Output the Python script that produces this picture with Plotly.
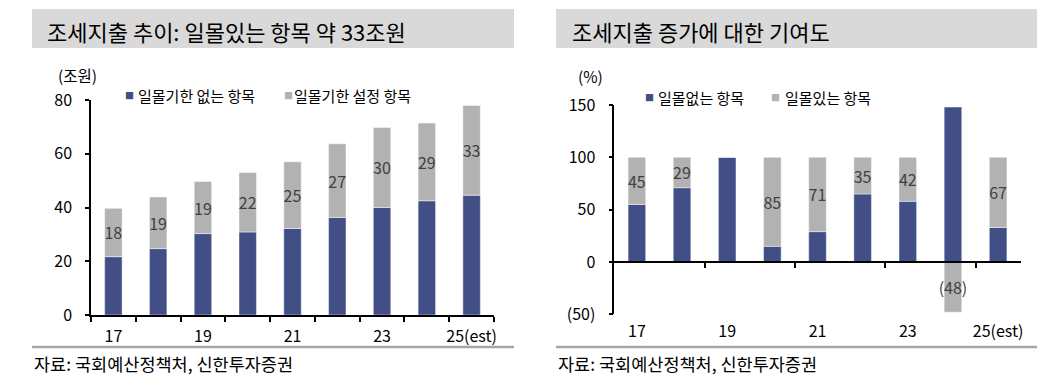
import plotly.graph_objects as go

# ---------------- data ----------------
years = ["17", "18", "19", "20", "21", "22", "23", "24", "25(est)"]
year_ticks = ["17", "19", "21", "23", "25(est)"]

# left chart: 조세지출 추이 (조원)
left_no_sunset = [21.7, 24.7, 30.3, 30.9, 32.2, 36.3, 40.0, 42.5, 44.6]   # 일몰기한 없는 항목
left_sunset = [18.0, 19.2, 19.4, 22.1, 24.8, 27.4, 29.8, 28.9, 33.4]      # 일몰기한 설정 항목
left_yticks = [0, 20, 40, 60, 80]

# right chart: 조세지출 증가에 대한 기여도 (%)
right_no_sunset = [55, 71, 100, 15, 29, 65, 58, 148, 33]   # 일몰없는 항목
right_sunset = [45, 29, 0, 85, 71, 35, 42, -48, 67]        # 일몰있는 항목
right_yticks = [-50, 0, 50, 100, 150]
right_yticktext = ["(50)", "0", "50", "100", "150"]

# ---------------- style ----------------
BLUE = "#424F87"
GRAY = "#B2B2B2"
LABEL = "#404040"
FONT = "Noto Sans CJK KR"
W, H = 1050, 385


def px(x):
    return x / W


def py(y):
    return 1 - y / H


def fmt(v):
    if v == 0:
        return ""
    r = round(v)
    return f"({abs(r)})" if r < 0 else f"{r}"


idx = list(range(len(years)))
tick_idx = [years.index(t) for t in year_ticks]
edge_line = dict(width=1, color="rgba(255,255,255,0.45)")

fig = go.Figure()

# left chart bars
fig.add_trace(go.Bar(x=idx, y=left_no_sunset, name="일몰기한 없는 항목", marker=dict(color=BLUE, line=edge_line),
                     width=0.39, xaxis="x", yaxis="y", hoverinfo="y"))
fig.add_trace(go.Bar(x=idx, y=left_sunset, name="일몰기한 설정 항목", marker=dict(color=GRAY, line=edge_line),
                     width=0.39, xaxis="x", yaxis="y", text=[fmt(v) for v in left_sunset],
                     textposition="inside", insidetextanchor="middle", textangle=0,
                     textfont=dict(size=16, color=LABEL, family=FONT), hoverinfo="y"))

# right chart bars
fig.add_trace(go.Bar(x=idx, y=right_no_sunset, name="일몰없는 항목", marker=dict(color=BLUE, line=edge_line),
                     width=0.39, xaxis="x2", yaxis="y2", hoverinfo="y"))
fig.add_trace(go.Bar(x=idx, y=right_sunset, name="일몰있는 항목", marker=dict(color=GRAY, line=edge_line),
                     width=0.39, xaxis="x2", yaxis="y2", text=[fmt(v) for v in right_sunset],
                     textposition="inside", insidetextanchor="middle", textangle=0,
                     textfont=dict(size=16, color=LABEL, family=FONT), hoverinfo="y"))
# helper trace so the zero-line axis is drawn
fig.add_trace(go.Scatter(x=[None], y=[None], xaxis="x3", yaxis="y2", showlegend=False, hoverinfo="skip"))

L_dom_y = [py(315), py(100)]
R_dom_y = [py(314.3), py(105)]
zero_pos = R_dom_y[0] + (0 - right_yticks[0]) / (right_yticks[-1] - right_yticks[0]) * (R_dom_y[1] - R_dom_y[0])

axis_common = dict(showgrid=False, zeroline=False, automargin=False,
                   tickfont=dict(size=16, color="black", family=FONT))

fig.update_layout(
    template="none",
    width=W, height=H, autosize=False,
    margin=dict(l=0, r=0, t=0, b=0, pad=0),
    paper_bgcolor="white", plot_bgcolor="white",
    font=dict(family=FONT, color="black"),
    barmode="relative",
    showlegend=False,
    uniformtext=dict(minsize=16, mode="show"),
    xaxis=dict(domain=[px(91), px(494)], anchor="y", range=[-0.5, len(years) - 0.5],
               tickmode="array", tickvals=tick_idx, ticktext=year_ticks, ticks="",
               showline=True, linecolor="black", linewidth=1.5, ticklabelstandoff=6,
               minor=dict(tickmode="array", tickvals=[i - 0.5 for i in range(len(years) + 1)],
                          ticks="outside", ticklen=5, tickwidth=1.5, tickcolor="black"),
               **axis_common),
    yaxis=dict(domain=L_dom_y, anchor="x", range=[0, 80], tickmode="array", tickvals=left_yticks,
               ticks="outside", ticklen=4, tickwidth=1.5, tickcolor="black",
               showline=True, linecolor="black", linewidth=1.5, ticklabelstandoff=10, **axis_common),
    xaxis2=dict(domain=[px(614.3), px(1020.7)], anchor="y2", range=[-0.5, len(years) - 0.5],
                tickmode="array", tickvals=tick_idx, ticktext=year_ticks, ticks="",
                showline=False, ticklabelstandoff=6, **axis_common),
    xaxis3=dict(overlaying="x2", anchor="free", position=zero_pos, side="bottom",
                range=[-0.5, len(years) - 0.5], tickmode="array", tickvals=[1.5, 3.5, 5.5, 7.5],
                ticks="outside", ticklen=5, tickwidth=1.5, tickcolor="black", showticklabels=False,
                showline=True, linecolor="black", linewidth=1.5, showgrid=False, zeroline=False,
                automargin=False),
    yaxis2=dict(domain=R_dom_y, anchor="x2", range=[-50, 150], tickmode="array",
                tickvals=right_yticks, ticktext=right_yticktext,
                ticks="outside", ticklen=4, tickwidth=1.5, tickcolor="black",
                showline=True, linecolor="black", linewidth=1.5, ticklabelstandoff=10, **axis_common),
)

shapes = []
annotations = []

# title boxes, titles, separators, sources
panels = [
    dict(x0=32, x1=514, title="조세지출 추이: 일몰있는 항목 약 33조원", tx=45),
    dict(x0=556, x1=1037, title="조세지출 증가에 대한 기여도", tx=570),
]
for p in panels:
    shapes.append(dict(type="rect", xref="paper", yref="paper", x0=px(p["x0"]), x1=px(p["x1"]),
                       y0=py(48), y1=py(9), fillcolor="#D9D9D9", line=dict(width=0), layer="below"))
    annotations.append(dict(xref="paper", yref="paper", x=px(p["tx"]), y=py(31), xanchor="left", yanchor="middle",
                            text=p["title"], showarrow=False, font=dict(size=22, color="black", family=FONT)))
    shapes.append(dict(type="line", xref="paper", yref="paper", x0=px(p["x0"]), x1=px(p["x1"]),
                       y0=py(347), y1=py(347), line=dict(color="#A6A6A6", width=2.5)))
    annotations.append(dict(xref="paper", yref="paper", x=px(p["x0"]), y=py(363), xanchor="left", yanchor="middle",
                            text="자료: 국회예산정책처, 신한투자증권", showarrow=False,
                            font=dict(size=17.5, color="black", family=FONT)))

# unit labels
annotations.append(dict(xref="paper", yref="paper", x=px(77), y=py(75), xanchor="center", yanchor="middle",
                        text="(조원)", showarrow=False, font=dict(size=15.5, color="black", family=FONT)))
annotations.append(dict(xref="paper", yref="paper", x=px(590), y=py(76), xanchor="center", yanchor="middle",
                        text="(%)", showarrow=False, font=dict(size=15.5, color="black", family=FONT)))

# legends
legend_items = [
    (129, 136, 96, BLUE, "일몰기한 없는 항목"),
    (288, 292, 96, GRAY, "일몰기한 설정 항목"),
    (649, 656, 97.5, BLUE, "일몰없는 항목"),
    (775, 783, 97.5, GRAY, "일몰있는 항목"),
]
for sx, tx, ly, col, name in legend_items:
    annotations.append(dict(xref="paper", yref="paper", x=px(sx), y=py(ly), xanchor="center", yanchor="middle",
                            text="■", showarrow=False, font=dict(size=9, color=col, family=FONT)))
    annotations.append(dict(xref="paper", yref="paper", x=px(tx), y=py(ly), xanchor="left", yanchor="middle",
                            text=name, showarrow=False, font=dict(size=15, color="black", family=FONT)))

fig.update_layout(shapes=shapes, annotations=annotations)
fig.write_html("out.html", config={"displayModeBar": False},
               post_script="document.body.style.margin='0';")
